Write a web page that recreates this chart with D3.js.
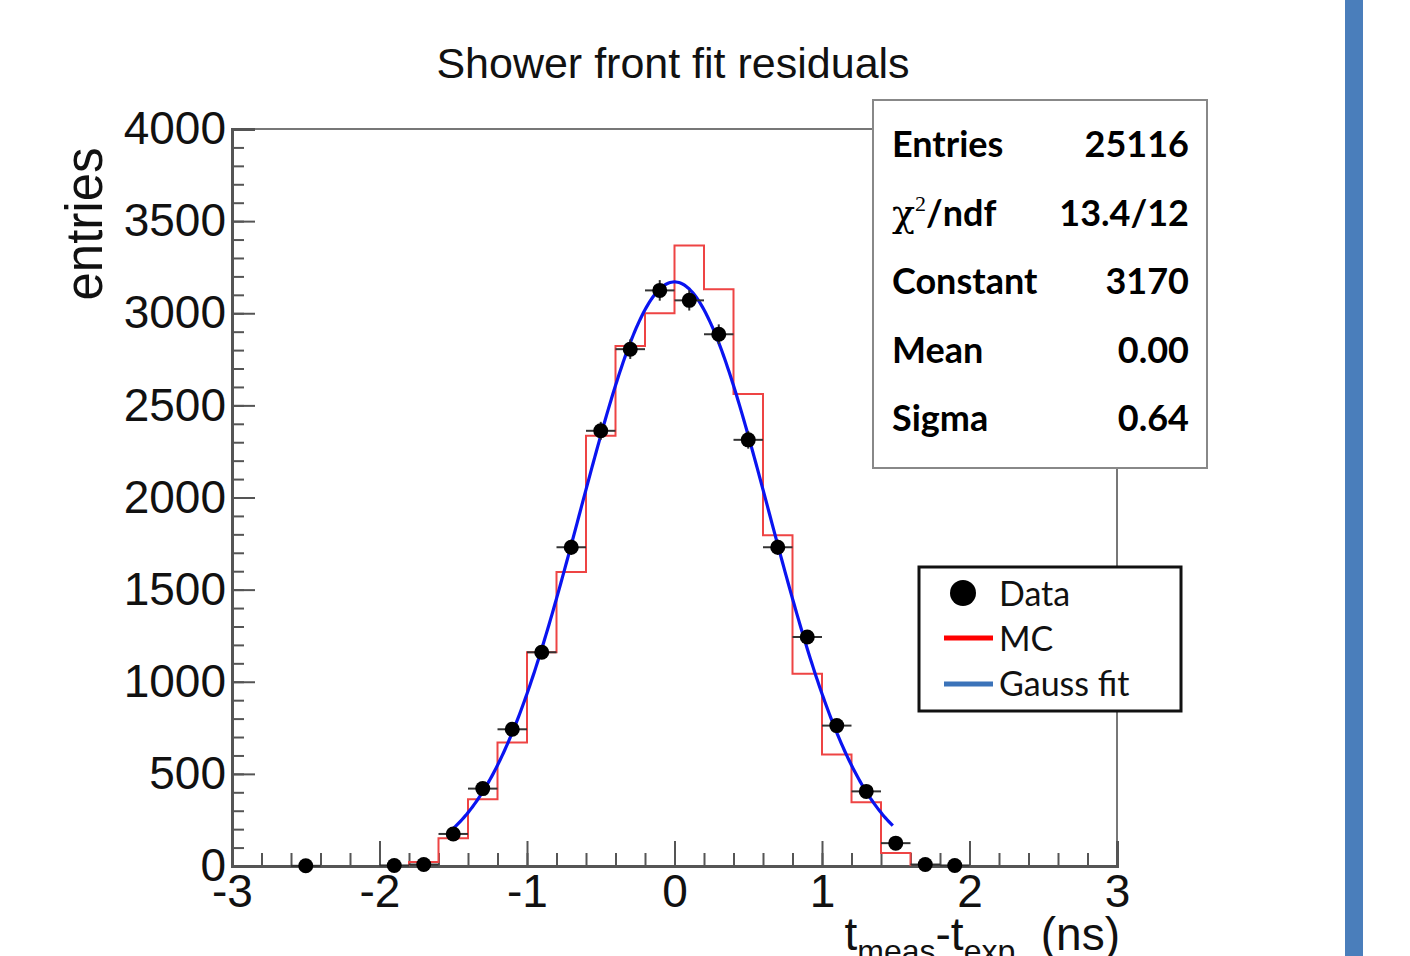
<!DOCTYPE html>
<html>
<head>
<meta charset="utf-8">
<script src="https://cdn.jsdelivr.net/npm/d3@7"></script>
<style>
    html, body { margin: 0; padding: 0; background: #fff; }
    svg { display: block; }
    .axis text { font-family: "Liberation Sans", Arial, sans-serif; }
    .stats text { font-family: Lato, "Open Sans", sans-serif; font-weight: 700; }
    .legend text { font-family: Lato, "Open Sans", sans-serif; }
</style>
</head>
<body>
<div id="chart"></div>
<script>
// data points (bin centres, counts)
const dataCenters = [-2.5, -1.9, -1.7, -1.5, -1.3, -1.1, -0.9, -0.7, -0.5, -0.3, -0.1,
    0.1, 0.3, 0.5, 0.7, 0.9, 1.1, 1.3, 1.5, 1.7, 1.9];
const dataCounts = [1, 3, 8, 174, 420, 742, 1160, 1730, 2362, 2805, 3124,
    3070, 2886, 2313, 1730, 1243, 762, 405, 124, 8, 3];

// MC histogram (lower bin edges, counts), bin width 0.2
const mcLowEdges = [-1.8, -1.6, -1.4, -1.2, -1.0, -0.8, -0.6, -0.4, -0.2, 0.0,
    0.2, 0.4, 0.6, 0.8, 1.0, 1.2, 1.4];
const mcCounts = [22, 151, 362, 670, 1160, 1595, 2335, 2822, 3000, 3368,
    3130, 2562, 1795, 1043, 605, 346, 70];
const binWidth = 0.2;

// Gaussian fit parameters
const fitConstant = 3170;
const fitMean = 0.0;
const fitSigma = 0.64;
const fitRange = [-1.5, 1.48];

const xTicks = [-3, -2, -1, 0, 1, 2, 3];
const yTicks = [0, 500, 1000, 1500, 2000, 2500, 3000, 3500, 4000];

const statsRows = [
    ["Entries", "25116"],
    ["chi2", "13.4/12"],
    ["Constant", "3170"],
    ["Mean", "0.00"],
    ["Sigma", "0.64"]
];

(function drawChart() {
    const width = 1410, height = 956;
    const svg = d3.select("#chart").append("svg")
        .attr("width", width)
        .attr("height", height);

    const frame = { left: 232, right: 1117, top: 129, bottom: 866 };
    const x = d3.scaleLinear().domain([-3, 3]).range([frame.left, frame.right]);
    const y = d3.scaleLinear().domain([0, 4000]).range([frame.bottom, frame.top]);

    // side bar on the right edge of the slide
    svg.append("rect").attr("x", 1345).attr("y", 0).attr("width", 18).attr("height", height)
        .attr("fill", "#4a7ebb");

    // title
    svg.append("text")
        .attr("x", 673).attr("y", 78)
        .attr("text-anchor", "middle")
        .attr("font-family", "Liberation Sans, Arial, sans-serif")
        .attr("font-size", 43)
        .attr("fill", "#111")
        .text("Shower front fit residuals");

    // frame
    svg.append("rect")
        .attr("x", frame.left).attr("y", frame.top)
        .attr("width", frame.right - frame.left).attr("height", frame.bottom - frame.top)
        .attr("fill", "none").attr("stroke", "#777").attr("stroke-width", 2);

    // minor ticks
    const xMinor = d3.range(-3, 3.001, 0.2).map(v => +v.toFixed(2));
    const yMinor = d3.range(0, 4001, 100);
    svg.append("g")
        .attr("transform", `translate(0,${frame.bottom})`)
        .call(d3.axisBottom(x).tickValues(xMinor).tickSize(-13).tickFormat(""))
        .call(g => g.select(".domain").remove())
        .selectAll("line").attr("stroke", "#555").attr("stroke-width", 2);
    svg.append("g")
        .attr("transform", `translate(${frame.left},0)`)
        .call(d3.axisLeft(y).tickValues(yMinor).tickSize(-12).tickFormat(""))
        .call(g => g.select(".domain").remove())
        .selectAll("line").attr("stroke", "#555").attr("stroke-width", 2);

    // major ticks + labels (plain hyphen minus, as in the original)
    const plain = d => String(d);
    const xAxis = svg.append("g")
        .attr("class", "axis")
        .attr("transform", `translate(0,${frame.bottom})`)
        .call(d3.axisBottom(x).tickValues(xTicks).tickSize(-25).tickPadding(8).tickFormat(plain));
    xAxis.select(".domain").attr("stroke", "#555").attr("stroke-width", 3);
    xAxis.selectAll("line").attr("stroke", "#555").attr("stroke-width", 2);
    xAxis.selectAll("text").attr("font-size", 46).attr("fill", "#111")
        .attr("font-family", "Liberation Sans, Arial, sans-serif");

    const yAxis = svg.append("g")
        .attr("class", "axis")
        .attr("transform", `translate(${frame.left},0)`)
        .call(d3.axisLeft(y).tickValues(yTicks).tickSize(-23).tickPadding(6).tickFormat(plain));
    yAxis.select(".domain").attr("stroke", "#555").attr("stroke-width", 3);
    yAxis.selectAll("line").attr("stroke", "#555").attr("stroke-width", 2);
    yAxis.selectAll("text").attr("font-size", 46).attr("fill", "#111")
        .attr("font-family", "Liberation Sans, Arial, sans-serif");

    // axis titles
    svg.append("text")
        .attr("transform", "translate(102,224) rotate(-90)")
        .attr("text-anchor", "middle")
        .attr("font-family", "Liberation Sans, Arial, sans-serif")
        .attr("font-size", 51)
        .attr("fill", "#111")
        .text("entries");

    const xTitle = svg.append("text")
        .attr("x", 1120).attr("y", 950)
        .attr("text-anchor", "end")
        .attr("font-family", "Liberation Sans, Arial, sans-serif")
        .attr("font-size", 46)
        .attr("fill", "#111");
    xTitle.append("tspan").text("t");
    xTitle.append("tspan").attr("dy", 12).attr("font-size", 32).text("meas");
    xTitle.append("tspan").attr("dy", -12).text("-t");
    xTitle.append("tspan").attr("dy", 12).attr("font-size", 32).text("exp");
    xTitle.append("tspan").attr("dy", -12).text("\u00a0\u00a0(ns)");

    // MC histogram as a step outline
    const mcPoints = [];
    mcLowEdges.forEach((lo, i) => {
        mcPoints.push([lo, mcCounts[i]]);
        mcPoints.push([lo + binWidth, mcCounts[i]]);
    });
    const first = mcLowEdges[0], last = mcLowEdges[mcLowEdges.length - 1] + binWidth;
    const mcPath = [[first, 0], ...mcPoints, [last, 0]];
    svg.append("path")
        .attr("d", d3.line().x(d => x(d[0])).y(d => y(d[1]))(mcPath))
        .attr("fill", "none")
        .attr("stroke", "#ee4444")
        .attr("stroke-width", 2);

    // Gauss fit
    const gauss = t => fitConstant * Math.exp(-0.5 * Math.pow((t - fitMean) / fitSigma, 2));
    const fitX = d3.range(fitRange[0], fitRange[1] + 1e-9, 0.01);
    svg.append("path")
        .attr("d", d3.line().x(t => x(t)).y(t => y(gauss(t)))(fitX))
        .attr("fill", "none")
        .attr("stroke", "#0a14f0")
        .attr("stroke-width", 3.2);

    // data points with error bars
    const points = svg.append("g").selectAll("g.point")
        .data(dataCenters.map((c, i) => ({ c, n: dataCounts[i] })))
        .join("g")
        .attr("class", "point");
    points.append("line")
        .attr("x1", d => x(d.c - binWidth / 2)).attr("x2", d => x(d.c + binWidth / 2))
        .attr("y1", d => y(d.n)).attr("y2", d => y(d.n))
        .attr("stroke", "#333").attr("stroke-width", 2);
    points.append("line")
        .attr("x1", d => x(d.c)).attr("x2", d => x(d.c))
        .attr("y1", d => y(Math.max(0, d.n - Math.sqrt(d.n)))).attr("y2", d => y(d.n + Math.sqrt(d.n)))
        .attr("stroke", "#333").attr("stroke-width", 2);
    points.append("circle")
        .attr("cx", d => x(d.c)).attr("cy", d => y(d.n))
        .attr("r", 7.5)
        .attr("fill", "#000");

    // stats box
    const stats = svg.append("g").attr("class", "stats");
    stats.append("rect")
        .attr("x", 873).attr("y", 100).attr("width", 334).attr("height", 368)
        .attr("fill", "#fff").attr("stroke", "#888").attr("stroke-width", 2);
    statsRows.forEach(([label, value], i) => {
        const baseY = 157 + i * 68.5;
        const t = stats.append("text").attr("x", 892).attr("y", baseY)
            .attr("font-size", 36).attr("fill", "#000");
        if (label === "chi2") {
            t.append("tspan").attr("font-family", "DejaVu Serif, serif").attr("font-weight", 400)
                .attr("font-size", 38).text("\u03c7");
            t.append("tspan").attr("dy", -15).attr("font-size", 22).attr("font-weight", 400)
                .attr("font-family", "Liberation Serif, serif").text("2");
            t.append("tspan").attr("dy", 15).text("/ndf");
        } else {
            t.text(label);
        }
        stats.append("text").attr("x", 1189).attr("y", baseY)
            .attr("text-anchor", "end")
            .attr("font-size", 36).attr("fill", "#000")
            .text(value);
    });

    // legend
    const legend = svg.append("g").attr("class", "legend");
    legend.append("rect")
        .attr("x", 919).attr("y", 567).attr("width", 262).attr("height", 144)
        .attr("fill", "#fff").attr("stroke", "#111").attr("stroke-width", 3);
    legend.append("circle").attr("cx", 963).attr("cy", 593).attr("r", 13).attr("fill", "#000");
    legend.append("line").attr("x1", 944).attr("x2", 993).attr("y1", 638).attr("y2", 638)
        .attr("stroke", "#ff0000").attr("stroke-width", 5);
    legend.append("line").attr("x1", 944).attr("x2", 993).attr("y1", 684).attr("y2", 684)
        .attr("stroke", "#3b73b9").attr("stroke-width", 5);
    [["Data", 606], ["MC", 651], ["Gauss fit", 696]].forEach(([label, ly]) => {
        legend.append("text").attr("x", 999).attr("y", ly)
            .attr("font-size", 34).attr("fill", "#111").text(label);
    });
})();
</script>
</body>
</html>
